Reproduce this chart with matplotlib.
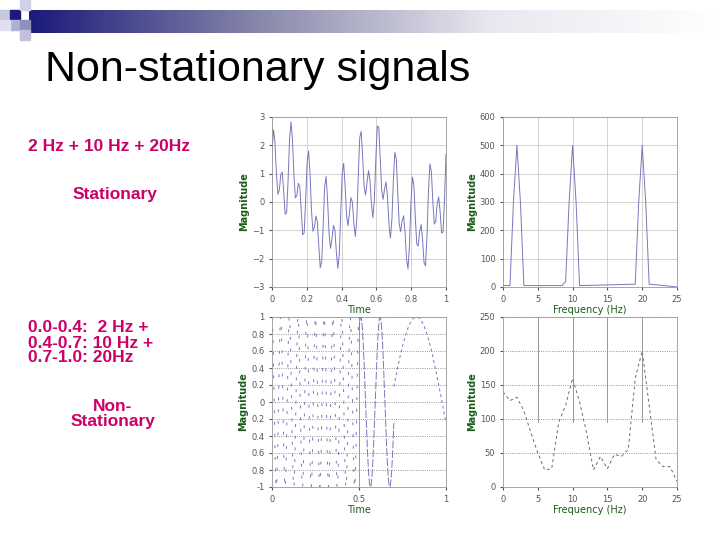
import numpy as np
import matplotlib.pyplot as plt
from matplotlib.patches import Rectangle

# signal content as labelled on the slide
stat_freqs = [2, 10, 20]
# (start, end, frequency Hz, time of a peak)
nonstat_segments = [(0.0, 0.5, 20, 0.0), (0.5, 0.7, 9, 0.51), (0.7, 1.0, 1.7, 0.83)]

# spectrum of stationary signal
fft1_f = [0, 1, 1.5, 2, 2.5, 3, 8.5, 9, 9.5, 10, 10.5, 11, 19, 19.5, 20, 20.5, 21, 22, 25]
fft1_m = [5, 5, 300, 500, 300, 5, 5, 20, 300, 500, 300, 5, 10, 300, 500, 300, 10, 8, 0]

# spectrum of non-stationary signal
fft2_f = list(range(26))
fft2_m = [140, 127, 132, 112, 80, 50, 25, 27, 95, 120, 160, 125, 80, 25, 45, 27,
          48, 45, 55, 160, 200, 120, 40, 30, 30, 8]

line_c = '#7777bb'
tick_c = '#555555'
lab_c = '#1a5c1a'
txt_c = '#cc0066'

fig = plt.figure(figsize=(7.2, 5.4), dpi=100)

# banner
bg = fig.add_axes([0.04, 1 - 33 / 540, 0.96, 23 / 540])
grad = np.linspace(0, 1, 256)[None, :]
bg.imshow(grad, aspect='auto', cmap=plt.matplotlib.colors.LinearSegmentedColormap.from_list(
    'b', ['#1a1a7a', '#8888aa', '#e8e8f0', '#ffffff']))
bg.axis('off')
for (x, y, c) in [(0, 10, '#c8c8e0'), (10, 10, '#1a1a7a'), (20, 0, '#d0d0e8'),
                  (10, 20, '#b0b0d0'), (0, 20, '#e0e0f0'), (20, 20, '#9090c0'), (20, 30, '#c0c0d8')]:
    fig.patches.append(Rectangle((x / 720, 1 - (y + 10) / 540), 10 / 720, 10 / 540,
                                 transform=fig.transFigure, color=c))

fig.text(45 / 720, 1 - 70 / 540, 'Non-stationary signals', fontsize=31,
         family='Liberation Sans', va='center')

kw = dict(color=txt_c, fontsize=12.5, fontweight='bold', family='Liberation Sans')
fig.text(28 / 720, 1 - 147 / 540, '2 Hz + 10 Hz + 20Hz', va='center', **kw)
fig.text(115 / 720, 1 - 195 / 540, 'Stationary', va='center', ha='center', **kw)
fig.text(28 / 720, 1 - 343 / 540, '0.0-0.4:  2 Hz +\n0.4-0.7: 10 Hz +\n0.7-1.0: 20Hz',
         va='center', linespacing=1.0, **kw)
fig.text(113 / 720, 1 - 414 / 540, 'Non-\nStationary', va='center', ha='center',
         multialignment='center', linespacing=1.0, **kw)


def style(ax):
    ax.tick_params(labelsize=6, colors=tick_c, length=2)
    for s in ax.spines.values():
        s.set_color('#999999')
        s.set_linewidth(0.6)


W = 174 / 720
H = 170 / 540
ax1 = fig.add_axes([272 / 720, 1 - 287 / 540, W, H])
ax2 = fig.add_axes([503 / 720, 1 - 287 / 540, W, H])
ax3 = fig.add_axes([272 / 720, 1 - 487 / 540, W, H])
ax4 = fig.add_axes([503 / 720, 1 - 487 / 540, W, H])

t = np.linspace(0, 1, 120)
x1 = sum(np.sin(2 * np.pi * f * t + 0.6) for f in stat_freqs)
ax1.plot(t, x1, color=line_c, lw=0.7)
ax1.set_xlim(0, 1)
ax1.set_ylim(-3, 3)
ax1.set_xticks([0, 0.2, 0.4, 0.6, 0.8, 1])
ax1.set_xticklabels(['0', '0.2', '0.4', '0.6', '0.8', '1'])
ax1.grid(True, color='#cccccc', lw=0.6)

ax2.plot(fft1_f, fft1_m, color=line_c, lw=0.7)
ax2.set_xlim(0, 25)
ax2.set_ylim(0, 600)
ax2.grid(True, color='#cccccc', lw=0.6)

styles = [(0, (3, 9)), (0, (8, 2)), (0, (3, 3))]
for (a, b, f, p), ls in zip(nonstat_segments, styles):
    tt = np.linspace(a, b, 300)
    ax3.plot(tt, np.cos(2 * np.pi * f * (tt - p)), color=line_c, lw=0.7, ls=ls)
ax3.set_xlim(0, 1)
ax3.set_ylim(-1, 1)
ax3.set_xticks([0, 0.5, 1])
ax3.set_xticklabels(['0', '0.5', '1'])
ax3.set_yticks(np.round(np.arange(-1, 1.01, 0.2), 1))
ax3.set_yticklabels(['-1', '0.8', '0.6', '0.4', '0.2', '0', '0.2', '0.4', '0.6', '0.8', '1'])
ax3.grid(True, axis='y', color='#777777', lw=0.6, ls=':')
ax3.axvline(0.5, color='#888888', lw=0.6)

ax4.plot(fft2_f, fft2_m, color='#666688', lw=0.7, ls=(0, (3, 3)))
ax4.set_xlim(0, 25)
ax4.set_ylim(0, 250)
ax4.grid(True, axis='y', color='#777777', lw=0.6, ls=':')
for xv in [5, 10, 15, 20]:
    ax4.axvline(xv, ymin=0.38, color='#888888', lw=0.6)

for ax in (ax1, ax2, ax3, ax4):
    style(ax)
for ax in (ax1, ax3):
    ax.set_xlabel('Time', fontsize=7, color=lab_c, labelpad=1)
for ax in (ax2, ax4):
    ax.set_xlabel('Frequency (Hz)', fontsize=7, color=lab_c, labelpad=1)
for ax in (ax1, ax2, ax3, ax4):
    ax.set_ylabel('Magnitude', fontsize=7, color=lab_c, fontweight='bold', labelpad=2)

fig.savefig('out.png', dpi=100)
